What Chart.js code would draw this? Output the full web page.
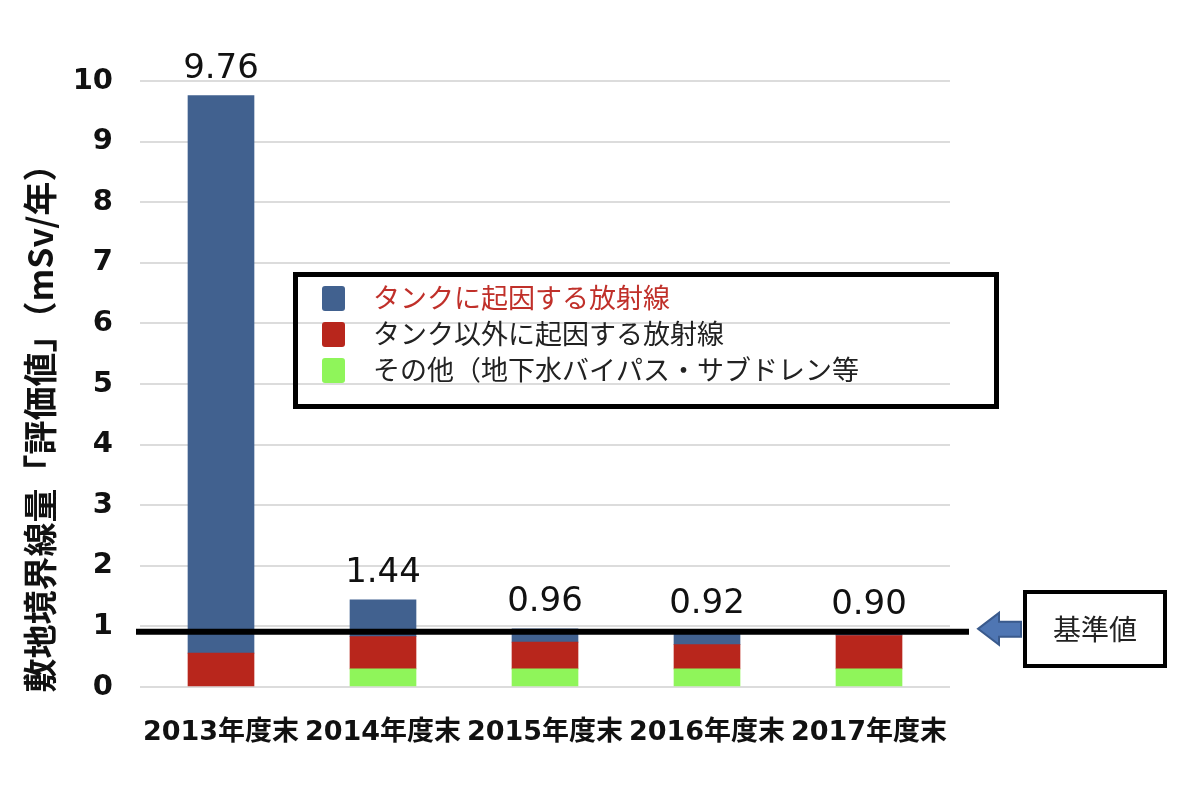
<!DOCTYPE html>
<html>
<head>
<meta charset="utf-8">
<script src="https://cdn.jsdelivr.net/npm/chart.js@4"></script>
<style>
  body { margin: 0; background: #fff; }
</style>
</head>
<body>
<canvas id="chart" width="1200" height="812"></canvas>
<script>
const years = ['2013年度末', '2014年度末', '2015年度末', '2016年度末', '2017年度末'];
const otherVals = [null, 0.30, 0.30, 0.30, 0.30];   // その他（地下水バイパス・サブドレン等
const nonTankVals = [0.56, 0.53, 0.44, 0.40, 0.55]; // タンク以外に起因する放射線
const tankVals = [9.20, 0.61, 0.22, 0.22, 0.05];    // タンクに起因する放射線
const totalLabels = ['9.76', '1.44', '0.96', '0.92', '0.90'];
const baseValue = 0.91; // 基準値 line
const yMax = 10;

const legendItems = [
  { text: 'タンクに起因する放射線', color: '#41618f', textColor: '#c0302a' },
  { text: 'タンク以外に起因する放射線', color: '#b8261c', textColor: '#222' },
  { text: 'その他（地下水バイパス・サブドレン等', color: '#8ff55a', textColor: '#222' }
];

const jpFont = "'Noto Sans CJK JP', 'DejaVu Sans', sans-serif";

function roundRect(ctx, x, y, w, h, r) {
  ctx.beginPath();
  ctx.moveTo(x + r, y);
  ctx.arcTo(x + w, y, x + w, y + h, r);
  ctx.arcTo(x + w, y + h, x, y + h, r);
  ctx.arcTo(x, y + h, x, y, r);
  ctx.arcTo(x, y, x + w, y, r);
  ctx.closePath();
}

const extras = {
  id: 'extras',
  afterDatasetsDraw(chart) {
    const { ctx, chartArea, scales } = chart;
    const xs = scales.x, ys = scales.y;

    // totals above bars
    ctx.save();
    ctx.fillStyle = '#111';
    ctx.font = "34px 'DejaVu Sans'";
    ctx.textAlign = 'center';
    ctx.textBaseline = 'alphabetic';
    years.forEach((y, i) => {
      const top = ys.getPixelForValue((otherVals[i] || 0) + nonTankVals[i] + tankVals[i]);
      ctx.fillText(totalLabels[i], xs.getPixelForValue(i), top - 18);
    });
    ctx.restore();

    // baseline
    const by = ys.getPixelForValue(baseValue);
    ctx.save();
    ctx.strokeStyle = '#000';
    ctx.lineWidth = 6;
    ctx.beginPath();
    ctx.moveTo(chartArea.left - 4, by);
    ctx.lineTo(chartArea.right + 19, by);
    ctx.stroke();

    // arrow
    const ay = by - 3;
    ctx.beginPath();
    ctx.moveTo(978, ay);
    ctx.lineTo(999, ay - 16);
    ctx.lineTo(999, ay - 7);
    ctx.lineTo(1021, ay - 7);
    ctx.lineTo(1021, ay + 8);
    ctx.lineTo(999, ay + 8);
    ctx.lineTo(999, ay + 16);
    ctx.closePath();
    ctx.fillStyle = '#4f76b3';
    ctx.fill();
    ctx.strokeStyle = '#3a5a8c';
    ctx.lineWidth = 2;
    ctx.stroke();

    // 基準値 box
    ctx.lineWidth = 4;
    ctx.strokeStyle = '#000';
    ctx.strokeRect(1025, 592, 140, 74);
    ctx.fillStyle = '#222';
    ctx.font = '28px ' + jpFont;
    ctx.textAlign = 'center';
    ctx.textBaseline = 'middle';
    ctx.fillText('基準値', 1095, 629);

    // legend box
    ctx.lineWidth = 5;
    ctx.strokeRect(295.5, 274.5, 701, 132);
    ctx.textAlign = 'left';
    legendItems.forEach((it, i) => {
      const cy = 298 + i * 36;
      ctx.fillStyle = it.color;
      roundRect(ctx, 322, cy - 12, 23, 25, 3);
      ctx.fill();
      ctx.fillStyle = it.textColor;
      ctx.font = '27px ' + jpFont;
      ctx.fillText(it.text, 373, cy);
    });

    // y axis title
    ctx.translate(40, 420);
    ctx.rotate(-Math.PI / 2);
    ctx.fillStyle = '#111';
    ctx.font = 'bold 34px ' + jpFont;
    ctx.textAlign = 'center';
    ctx.textBaseline = 'middle';
    ctx.fillText('敷地境界線量「評価値」（mSv/年）', 0, 0);
    ctx.restore();
  }
};

new Chart(document.getElementById('chart'), {
  type: 'bar',
  data: {
    labels: years,
    datasets: [
      { label: legendItems[2].text, data: otherVals, backgroundColor: '#8ff55a' },
      { label: legendItems[1].text, data: nonTankVals, backgroundColor: '#b8261c' },
      { label: legendItems[0].text, data: tankVals, backgroundColor: '#41618f' }
    ]
  },
  options: {
    responsive: false,
    animation: false,
    layout: { padding: { top: 81, right: 250, left: 0, bottom: 0 } },
    datasets: { bar: { barThickness: 66 } },
    plugins: {
      legend: { display: false },
      tooltip: { enabled: false }
    },
    scales: {
      x: {
        stacked: true,
        grid: { display: false, drawTicks: false },
        border: { display: false },
        ticks: {
          color: '#111',
          padding: 30,
          autoSkip: false,
          maxRotation: 0,
          minRotation: 0,
          font: { family: "'DejaVu Sans', 'Noto Sans CJK JP'", size: 27, weight: 'bold' }
        },
        afterFit(scale) { scale.height = 125; }
      },
      y: {
        stacked: true,
        min: 0,
        max: yMax,
        grid: { color: '#dcdcdc', lineWidth: 2, drawTicks: false },
        border: { display: false },
        ticks: {
          stepSize: 1,
          color: '#111',
          padding: 27,
          font: { family: "'DejaVu Sans'", size: 29, weight: 'bold' }
        },
        afterFit(scale) { scale.width = 140; }
      }
    }
  },
  plugins: [extras]
});
</script>
</body>
</html>
